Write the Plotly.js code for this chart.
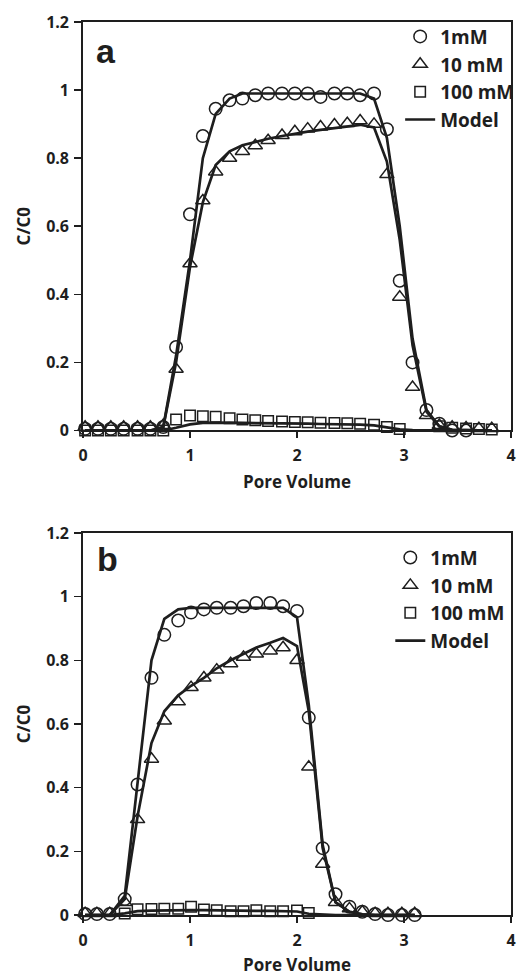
<!DOCTYPE html>
<html>
<head>
<meta charset="utf-8">
<script src="https://cdn.plot.ly/plotly-3.0.1.min.js"></script>
<style>html,body{margin:0;padding:0;background:#fff;}#chart{width:528px;height:976px;}</style>
</head>
<body>
<div id="chart"></div>
<script>
// ---------- Panel a data ----------
const xTop = [0.02,0.14,0.26,0.38,0.51,0.63,0.75,0.87,1.0,1.12,1.24,1.37,1.49,1.61,1.73,1.86,1.98,2.1,2.22,2.35,2.47,2.59,2.72,2.84,2.96,3.08,3.21,3.33,3.45,3.58,3.7,3.82];
const a1mM = [0.005,0.005,0.005,0.005,0.005,0.005,0.01,0.245,0.635,0.865,0.945,0.97,0.975,0.985,0.99,0.99,0.99,0.99,0.98,0.99,0.99,0.985,0.99,0.885,0.44,0.2,0.06,0.02,0.0,0.0,-0.003,-0.003];
const a10mM = [0.01,0.01,0.01,0.01,0.01,0.01,0.015,0.18,0.49,0.675,0.76,0.80,0.82,0.837,0.852,0.867,0.878,0.886,0.892,0.898,0.902,0.91,0.90,0.752,0.392,0.127,0.044,0.015,0.01,0.008,0.006,0.006];
const a100mM = [0,0,0,0,0,0,0,0.032,0.044,0.042,0.04,0.036,0.032,0.03,0.028,0.026,0.025,0.024,0.023,0.022,0.021,0.02,0.017,0.01,0.004,-0.004,-0.004,0.012,0.008,0.006,0.004,0.003];
const aModel1 = [0,0,0,0,0,0,0.01,0.22,0.5,0.80,0.93,0.975,0.99,0.99,0.99,0.99,0.99,0.99,0.99,0.99,0.99,0.99,0.975,0.86,0.6,0.27,0.06,0.012,0.002,0,0,0];
const aModel10 = [0,0,0,0,0,0,0.01,0.2,0.48,0.67,0.78,0.82,0.838,0.848,0.857,0.865,0.872,0.878,0.883,0.888,0.893,0.898,0.89,0.79,0.56,0.25,0.055,0.012,0.002,0,0,0];
const aModel100 = [0,0,0,0,0,0,0,0.008,0.018,0.022,0.023,0.023,0.022,0.022,0.021,0.021,0.02,0.02,0.019,0.019,0.018,0.017,0.015,0.009,0.003,0.001,0,0,0,0,0,0];

// ---------- Panel b data ----------
const xBot = [0.02,0.13,0.25,0.39,0.51,0.64,0.76,0.89,1.01,1.13,1.25,1.38,1.5,1.62,1.75,1.87,2.0,2.11,2.24,2.36,2.49,2.61,2.73,2.85,2.98,3.1];
const b1mM = [0.003,0.003,0.003,0.05,0.41,0.745,0.88,0.925,0.95,0.96,0.965,0.965,0.97,0.98,0.98,0.97,0.955,0.62,0.21,0.065,0.026,0.01,0.003,0,0,0];
const b10mM = [0.005,0.005,0.005,0.04,0.30,0.49,0.61,0.67,0.715,0.745,0.77,0.79,0.81,0.82,0.83,0.84,0.80,0.465,0.16,0.04,0.02,0.01,0.005,0.005,0.005,0.005];
const b100mM = [-0.003,-0.003,-0.003,0.005,0.018,0.019,0.02,0.02,0.026,0.017,0.015,0.012,0.012,0.015,0.012,0.012,0.014,0.006,-0.003,-0.003,-0.003,-0.003,-0.003,-0.003,-0.003,-0.003];
const bModel1 = [0,0,0,0.06,0.42,0.80,0.93,0.96,0.965,0.965,0.965,0.965,0.965,0.965,0.965,0.965,0.935,0.66,0.22,0.04,0.01,0.002,0,0,0,0];
const bModel10 = [0,0,0,0.05,0.31,0.54,0.64,0.69,0.72,0.745,0.775,0.80,0.82,0.84,0.855,0.87,0.845,0.64,0.21,0.04,0.01,0.002,0,0,0,0];
const bModel100 = [0,0,0,0.005,0.012,0.014,0.015,0.015,0.015,0.015,0.014,0.014,0.014,0.013,0.013,0.013,0.011,0.004,0.001,0,0,0,0,0,0,0];

const seriesNames = ['1mM', '10 mM', '100 mM', 'Model'];
const xTickVals = [0, 1, 2, 3, 4];
const yTickVals = [0, 0.2, 0.4, 0.6, 0.8, 1, 1.2];
const panelLabels = ['a', 'b'];
const xTitle = 'Pore Volume';
const yTitle = 'C/C0';

const INK = '#1e1e1e';
const FONT = 'Open Sans, DejaVu Sans, sans-serif';

function markerTrace(x, y, name, symbol, size, xa, ya, leg) {
  return {
    x: x, y: y, name: name, type: 'scatter', mode: 'markers',
    xaxis: xa, yaxis: ya, legend: leg, cliponaxis: false,
    marker: {symbol: symbol, size: size, color: INK, line: {color: INK, width: 1.5}}
  };
}
function modelTrace(x, y, show, xa, ya, leg) {
  return {
    x: x, y: y, name: seriesNames[3], type: 'scatter', mode: 'lines',
    xaxis: xa, yaxis: ya, legend: leg, showlegend: show, cliponaxis: false,
    line: {color: INK, width: 2.7}
  };
}

const data = [
  markerTrace(xTop, a1mM, seriesNames[0], 'circle-open', 12.5, 'x', 'y', 'legend'),
  markerTrace(xTop, a10mM, seriesNames[1], 'triangle-up-open', 12.5, 'x', 'y', 'legend'),
  markerTrace(xTop, a100mM, seriesNames[2], 'square-open', 10.5, 'x', 'y', 'legend'),
  modelTrace(xTop, aModel1, true, 'x', 'y', 'legend'),
  modelTrace(xTop, aModel10, false, 'x', 'y', 'legend'),
  modelTrace(xTop, aModel100, false, 'x', 'y', 'legend'),
  markerTrace(xBot, b1mM, seriesNames[0], 'circle-open', 12.5, 'x2', 'y2', 'legend2'),
  markerTrace(xBot, b10mM, seriesNames[1], 'triangle-up-open', 12.5, 'x2', 'y2', 'legend2'),
  markerTrace(xBot, b100mM, seriesNames[2], 'square-open', 10.5, 'x2', 'y2', 'legend2'),
  modelTrace(xBot, bModel1, true, 'x2', 'y2', 'legend2'),
  modelTrace(xBot, bModel10, false, 'x2', 'y2', 'legend2'),
  modelTrace(xBot, bModel100, false, 'x2', 'y2', 'legend2')
];

function xAxis(anchor) {
  return {
    anchor: anchor, range: [0, 4], tickmode: 'array', tickvals: xTickVals,
    ticks: 'outside', ticklen: 6, tickwidth: 1.5, tickcolor: INK,
    showline: true, linecolor: INK, linewidth: 1.8, mirror: true,
    showgrid: false, zeroline: false, ticklabelstandoff: 4,
    tickfont: {family: FONT, size: 16, color: INK, weight: 'bold'},
    title: {text: xTitle, standoff: 11, font: {family: FONT, size: 17, color: INK, weight: 'bold'}}
  };
}
function yAxis(anchor, domain) {
  return {
    anchor: anchor, domain: domain, range: [0, 1.2], tickmode: 'array', tickvals: yTickVals,
    ticks: 'outside', ticklen: 7, tickwidth: 1.5, tickcolor: INK,
    showline: true, linecolor: INK, linewidth: 1.8, mirror: true,
    showgrid: false, zeroline: false, ticklabelstandoff: 2,
    tickfont: {family: FONT, size: 16, color: INK, weight: 'bold'},
    title: {text: yTitle, standoff: 11, font: {family: FONT, size: 17, color: INK, weight: 'bold'}}
  };
}
function legendBox(x, y) {
  return {
    x: x, y: y, xanchor: 'left', yanchor: 'top', bgcolor: 'rgba(0,0,0,0)', borderwidth: 0,
    font: {family: FONT, size: 19, color: INK, weight: 'bold'}, tracegroupgap: 0
  };
}

const layout = {
  width: 528, height: 976,
  margin: {l: 83, r: 8, t: 22, b: 61},
  paper_bgcolor: '#fff', plot_bgcolor: '#fff',
  showlegend: true,
  xaxis: xAxis('y'),
  yaxis: yAxis('x', [0.5426, 1]),
  xaxis2: xAxis('y2'),
  yaxis2: yAxis('x2', [0, 0.4278]),
  legend: legendBox(0.741, 1.005),
  legend2: legendBox(0.718, 0.4215),
  annotations: [
    {text: panelLabels[0], xref: 'paper', yref: 'paper', x: 0.0526, y: 0.967, xanchor: 'center', yanchor: 'middle', showarrow: false,
     font: {family: 'Liberation Sans, Arial, sans-serif', size: 34, color: INK, weight: 'bold'}},
    {text: panelLabels[1], xref: 'paper', yref: 'paper', x: 0.0572, y: 0.3985, xanchor: 'center', yanchor: 'middle', showarrow: false,
     font: {family: 'Liberation Sans, Arial, sans-serif', size: 34, color: INK, weight: 'bold'}}
  ]
};

Plotly.newPlot('chart', data, layout, {staticPlot: true, displayModeBar: false});
</script>
</body>
</html>
